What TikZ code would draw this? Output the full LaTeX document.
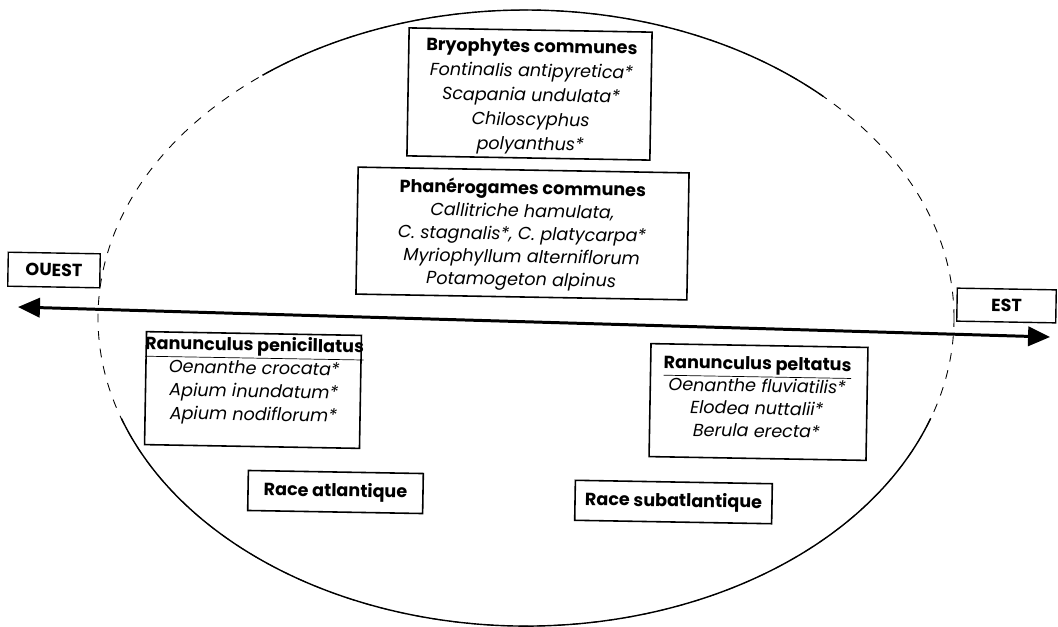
\documentclass[tikz,border=0pt]{standalone}
\usepackage{fontspec}
\setmainfont{Poppins}
\usetikzlibrary{arrows.meta}
\begin{document}
\begin{tikzpicture}[x=0.02cm,y=-0.02cm,
  box/.style={draw, line width=0.9pt, rectangle, inner sep=0pt, rotate=-1},
  txt/.style={align=center, inner sep=0pt, rotate=-1},
  body/.style={font=\fontsize{10}{#1}\selectfont},
  race/.style={box, font=\bfseries\fontsize{10}{12}\selectfont, minimum height=0.8cm},
  dir/.style={box, font=\bfseries\fontsize{10}{12}\selectfont, line width=0.8pt},
  axis/.style={line width=1.7pt, {Triangle[length=12.5pt,width=11pt]}-{Triangle[length=12.5pt,width=11pt]}},
  ell/.style={line width=0.8pt},
  elldash/.style={line width=0.5pt, dash pattern=on 5pt off 5pt}
]
\useasboundingbox (0,0) rectangle (1058,626);

% ellipse
\coordinate (E) at (526,318);
\draw[elldash] (E) ellipse[x radius=428, y radius=308];
\draw[ell] (E) ++(-46:428 and 308) arc[start angle=-46, end angle=-128, x radius=428, y radius=308];
\draw[ell] (E) ++(19:428 and 308) arc[start angle=19, end angle=161, x radius=428, y radius=308];

% top boxes
\node[box, minimum width=4.86cm, minimum height=2.56cm] (bryobox) at (529.5,94) {};
\node[txt, body=13.9] (bryo) at (531,97) {\textbf{Bryophytes communes}\\
  \textit{Fontinalis antipyretica*}\\
  \textit{Scapania undulata*}\\
  \textit{Chiloscyphus}\\
  \textit{polyanthus*}};

\node[box, minimum width=6.62cm, minimum height=2.54cm] (phanbox) at (522.5,233.5) {};
\node[txt, body=13] (phan) at (522,235) {\textbf{Phanérogames communes}\\
  \textit{Callitriche hamulata,}\\
  \textit{C. stagnalis*, C. platycarpa*}\\
  \textit{Myriophyllum alterniflorum}\\
  \textit{Potamogeton alpinus}};

% directions
\node[dir, minimum width=1.84cm, minimum height=0.68cm] (ouest) at (54,270) {OUEST};
\node[dir, minimum width=1.98cm, minimum height=0.66cm] (est) at (1006.5,305.5) {EST};

\coordinate (W) at (18,307);
\coordinate (Ee) at (1050,337);
\draw[axis] (W) -- (Ee);

% lower boxes
\node[box, minimum width=4.3cm, minimum height=2.26cm] (penbox) at (253,390) {};
\node[txt, body=13.2] (pen) at (254,381) {\textbf{\underline{Ranunculus penicillatus}}\\
  \textit{Oenanthe crocata*}\\
  \textit{Apium inundatum*}\\
  \textit{Apium nodiflorum*}};

\node[box, minimum width=4.34cm, minimum height=2.26cm] (pelbox) at (758.5,402) {};
\node[txt, body=12.8] (pel) at (757,397) {\textbf{\underline{Ranunculus peltatus}}\\
  \textit{Oenanthe fluviatilis*}\\
  \textit{Elodea nuttalii*}\\
  \textit{Berula erecta*}};

\node[race, minimum width=3.5cm] (ra) at (335.5,492) {Race atlantique};
\node[race, minimum width=3.94cm] (rs) at (673.5,502) {Race subatlantique};
\end{tikzpicture}
\end{document}
